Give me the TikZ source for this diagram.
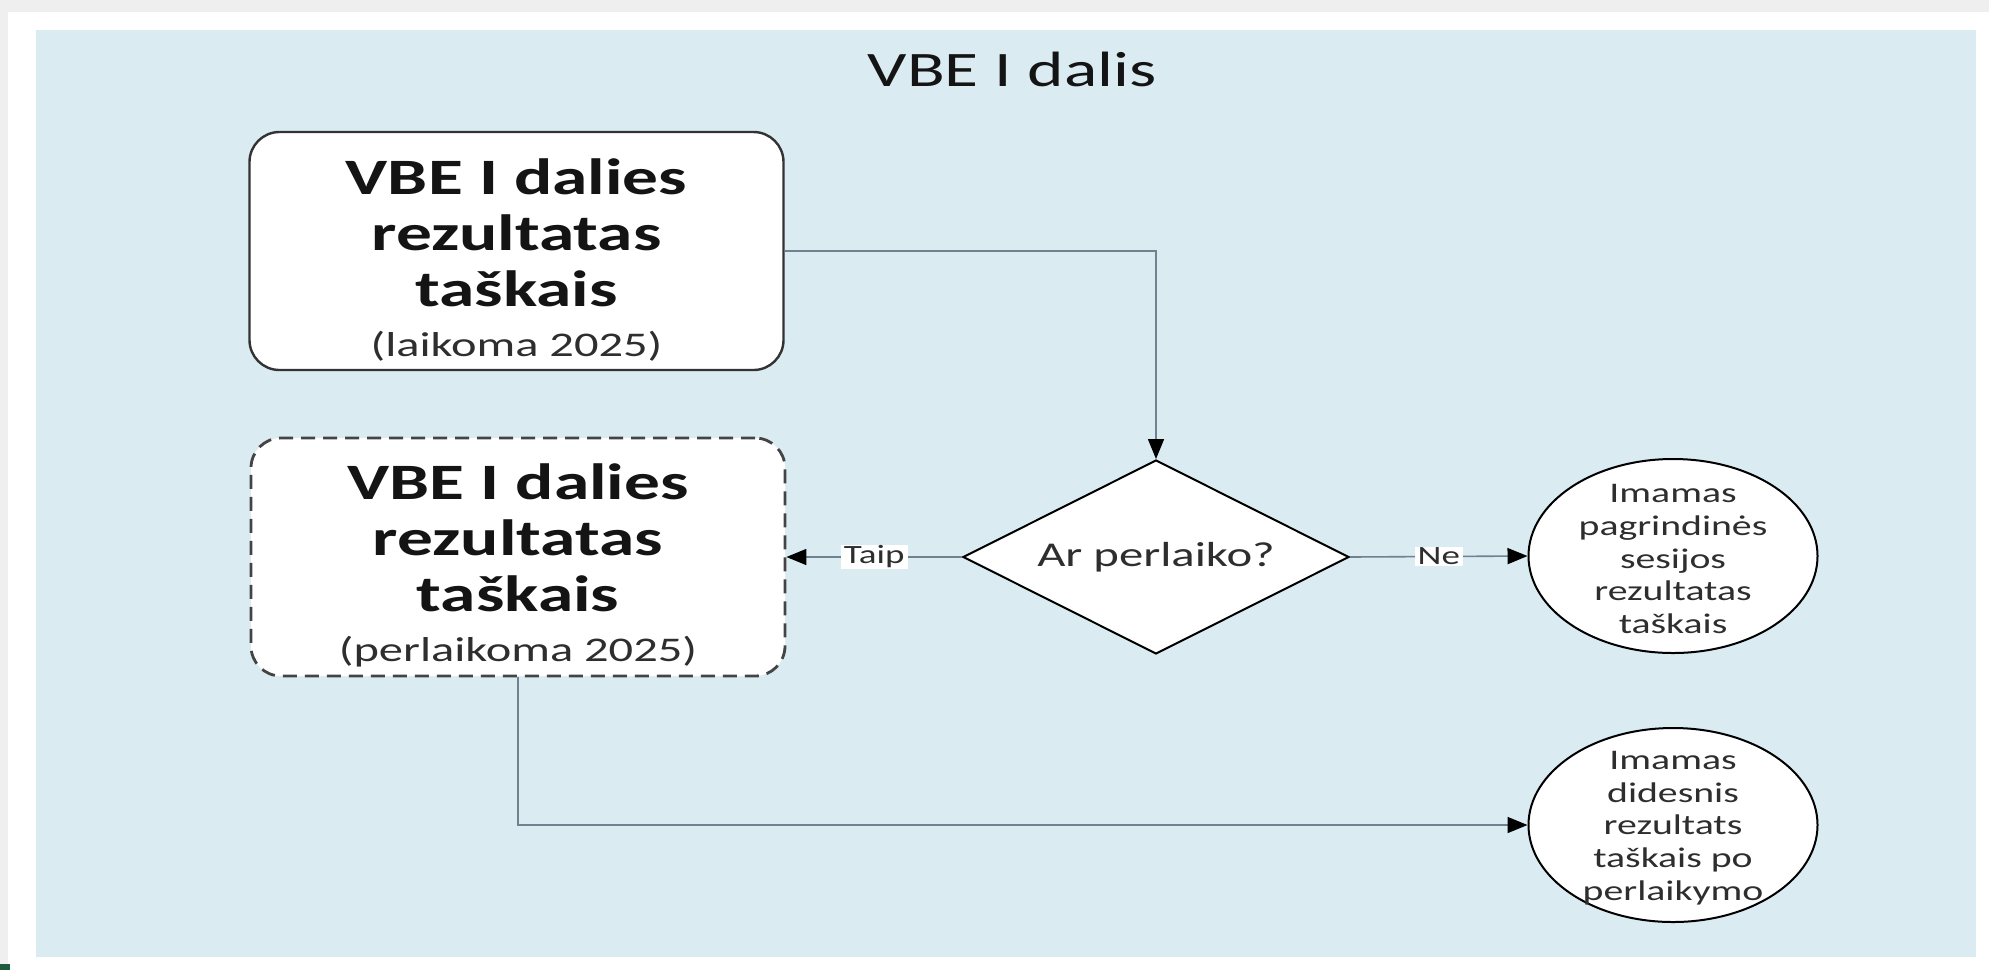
\documentclass[tikz,border=0pt]{standalone}
\usepackage{fontspec}
\setmainfont{Carlito}[FakeStretch=1.4]
\usetikzlibrary{shapes.geometric,arrows.meta}
\definecolor{bgblue}{HTML}{DAECF2}
\definecolor{outergray}{HTML}{EFEFEF}
\definecolor{linegray}{HTML}{6E8290}
\definecolor{boxline}{HTML}{333333}
\definecolor{dashline}{HTML}{444444}
\definecolor{txt}{HTML}{141414}
\definecolor{softtxt}{HTML}{2E2E2E}
\definecolor{cornergreen}{HTML}{1F5A3C}
\tikzset{
  boxbase/.style={rectangle, fill=white, rounded corners=15pt, inner sep=0pt,
    minimum width=267pt, minimum height=119pt},
  solidbox/.style={boxbase, draw=boxline, line width=1.2pt},
  dashbox/.style={boxbase, draw=dashline, line width=1.4pt, dash pattern=on 7pt off 4pt},
  boxtext/.style={align=center, inner sep=0pt, text=txt,
    font=\fontsize{25.5}{28}\selectfont\bfseries},
  decision/.style={diamond, draw=black, line width=1pt, fill=white, shape aspect=2,
    minimum width=193pt, minimum height=97pt, inner sep=0pt, text=softtxt,
    font=\fontsize{17.4}{20}\selectfont},
  endstate/.style={ellipse, draw=black, line width=1pt, fill=white, inner sep=0pt,
    minimum width=144.5pt, minimum height=97pt},
  endtext/.style={align=center, inner sep=0pt, text=softtxt,
    font=\fontsize{14.2}{16.4}\selectfont},
  conn/.style={draw=linegray, line width=0.8pt,
    -{Triangle[length=10pt,width=8pt,color=black]}},
  lbl/.style={fill=white, inner xsep=1.5pt, inner ysep=0.5pt, text=softtxt,
    font=\fontsize{13.2}{15}\selectfont}
}
\newcommand{\subline}[1]{{\fontsize{17.3}{21}\selectfont\mdseries\color{softtxt}#1}}
\begin{document}
\begin{tikzpicture}[x=0.5pt,y=-0.5pt]
\useasboundingbox (0,0) rectangle (1989,970);
% backgrounds
\fill[outergray] (0,0) rectangle (1989,970);
\fill[white] (8,12) rectangle (1989,970);
\fill[bgblue] (36,30) rectangle (1976,957);
\fill[cornergreen] (0,964) rectangle (10,970);

% title
\node[anchor=base, text=txt, font=\fontsize{24.8}{28}\selectfont] (title) at (1012,86) {VBE I dalis};

% boxes
\node[solidbox] (b1) at (516.5,251) {};
\node[boxtext] (b1t) at ([yshift=-4.5pt]b1.center) {VBE I dalies\\rezultatas\\taškais\\[-3pt]\subline{(laikoma 2025)}};
\node[dashbox] (b2) at (518,557) {};
\node[boxtext] (b2t) at ([yshift=-4pt]b2.center) {VBE I dalies\\rezultatas\\taškais\\[-3pt]\subline{(perlaikoma 2025)}};

% decision
\node[decision] (d) at (1156,557) {Ar perlaiko?};

% end states
\node[endstate] (c1) at (1673,556) {};
\node[endtext] (c1t) at ([yshift=-1.5pt]c1.center) {Imamas\\pagrindinės\\sesijos\\rezultatas\\taškais};
\node[endstate] (c2) at (1673,825) {};
\node[endtext] (c2t) at ([yshift=-1.5pt]c2.center) {Imamas\\didesnis\\rezultats\\taškais po\\perlaikymo};

% connectors
\draw[conn] (b1.east) -| (d.north);
\draw[conn] (d.west) -- node[lbl] (taip) {Taip} (b2.east);
\draw[conn] (d.east) -- node[lbl] (ne) {Ne} (c1.west);
\draw[conn] (b2.south) |- (c2.west);
\end{tikzpicture}
\end{document}
